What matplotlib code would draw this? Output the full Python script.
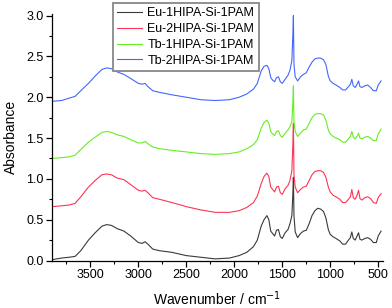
import matplotlib
matplotlib.use("Agg")
import matplotlib.pyplot as plt
from matplotlib.ticker import MultipleLocator

plt.rcParams['font.family'] = ['Liberation Sans', 'DejaVu Sans']

wavenumber = [3900, 3800, 3720, 3660, 3600, 3520, 3450, 3380, 3330, 3280, 3220, 3150, 3080, 3000,
              2960, 2930, 2900, 2850, 2780, 2650, 2500, 2350, 2200, 2050, 1950, 1870, 1800, 1760,
              1720, 1690, 1660, 1640, 1620, 1600, 1580, 1560, 1540, 1520, 1500, 1470, 1440, 1420,
              1400, 1390, 1384, 1378, 1365, 1340, 1310, 1280, 1250, 1220, 1190, 1160, 1130, 1100,
              1070, 1045, 1020, 1000, 970, 940, 900, 870, 840, 810, 790, 775, 760, 740, 720, 705,
              690, 670, 640, 610, 580, 550, 520, 500, 470]

eu1 = [0.01, 0.03, 0.04, 0.05, 0.12, 0.25, 0.34, 0.42, 0.44, 0.43, 0.39, 0.36, 0.30, 0.22,
       0.21, 0.23, 0.20, 0.14, 0.12, 0.10, 0.06, 0.04, 0.02, 0.03, 0.06, 0.10, 0.17, 0.25,
       0.42, 0.50, 0.55, 0.50, 0.36, 0.33, 0.30, 0.37, 0.38, 0.29, 0.27, 0.34, 0.38, 0.45,
       0.55, 0.80, 1.02, 0.55, 0.35, 0.28, 0.33, 0.36, 0.37, 0.45, 0.55, 0.61, 0.64, 0.63,
       0.60, 0.52, 0.38, 0.32, 0.29, 0.27, 0.24, 0.20, 0.20, 0.25, 0.28, 0.35, 0.27, 0.25, 0.30, 0.34,
       0.26, 0.25, 0.27, 0.28, 0.26, 0.22, 0.22, 0.30, 0.36]

eu2 = [0.66, 0.67, 0.68, 0.70, 0.78, 0.90, 0.98, 1.05, 1.06, 1.05, 1.01, 0.99, 0.93, 0.86,
       0.85, 0.86, 0.83, 0.77, 0.75, 0.71, 0.66, 0.62, 0.59, 0.59, 0.61, 0.65, 0.71, 0.79,
       0.94, 1.03, 1.07, 1.03, 0.90, 0.87, 0.84, 0.90, 0.91, 0.83, 0.81, 0.88, 0.92, 0.98,
       1.10, 1.40, 1.68, 1.05, 0.90, 0.83, 0.87, 0.90, 0.91, 0.98, 1.05, 1.09, 1.10, 1.10,
       1.08, 1.02, 0.90, 0.84, 0.80, 0.78, 0.75, 0.71, 0.71, 0.75, 0.78, 0.87, 0.77, 0.75, 0.80, 0.86,
       0.76, 0.74, 0.77, 0.78, 0.76, 0.71, 0.70, 0.77, 0.82]

tb1 = [1.25, 1.26, 1.27, 1.29, 1.36, 1.45, 1.51, 1.57, 1.58, 1.57, 1.54, 1.52, 1.48, 1.44,
       1.44, 1.46, 1.43, 1.39, 1.37, 1.35, 1.33, 1.31, 1.30, 1.31, 1.33, 1.37, 1.42, 1.48,
       1.62, 1.69, 1.72, 1.68, 1.58, 1.55, 1.53, 1.58, 1.59, 1.53, 1.51, 1.56, 1.60, 1.64,
       1.70, 1.92, 2.14, 1.70, 1.58, 1.52, 1.56, 1.60, 1.61, 1.68, 1.75, 1.79, 1.80, 1.80,
       1.78, 1.72, 1.60, 1.55, 1.52, 1.50, 1.48, 1.45, 1.45, 1.49, 1.52, 1.58, 1.51, 1.49, 1.52, 1.56,
       1.50, 1.49, 1.51, 1.52, 1.50, 1.47, 1.47, 1.55, 1.61]

tb2 = [1.95, 1.96, 1.99, 2.01, 2.08, 2.17, 2.26, 2.34, 2.36, 2.35, 2.31, 2.28, 2.23, 2.17,
       2.16, 2.17, 2.13, 2.08, 2.06, 2.03, 2.00, 1.97, 1.96, 1.97, 2.00, 2.04, 2.10, 2.17,
       2.32, 2.38, 2.39, 2.35, 2.24, 2.21, 2.19, 2.24, 2.25, 2.19, 2.17, 2.22, 2.27, 2.33,
       2.45, 2.75, 3.00, 2.40, 2.25, 2.20, 2.25, 2.28, 2.30, 2.37, 2.43, 2.47, 2.48, 2.48,
       2.46, 2.40, 2.26, 2.20, 2.17, 2.15, 2.12, 2.09, 2.09, 2.13, 2.16, 2.22, 2.14, 2.12, 2.16, 2.20,
       2.13, 2.12, 2.14, 2.15, 2.12, 2.08, 2.08, 2.15, 2.20]

labels = ["Eu-1HIPA-Si-1PAM", "Eu-2HIPA-Si-1PAM", "Tb-1HIPA-Si-1PAM", "Tb-2HIPA-Si-1PAM"]
colors = ["#3a3a3a", "#ff3355", "#66ee22", "#4466ff"]
series = [eu1, eu2, tb1, tb2]

fig = plt.figure(figsize=(3.92, 3.08), dpi=100)
ax = fig.add_axes([52/392, 1-260.5/308, 331/392, (260.5-14)/308])

for y, c, lab in zip(series, colors, labels):
    ax.plot(wavenumber, y, color=c, lw=0.8, label=lab)

ax.set_xlim(3900, 450)
ax.set_ylim(0, 3.02)
ax.xaxis.set_major_locator(MultipleLocator(500))
ax.xaxis.set_minor_locator(MultipleLocator(250))
ax.yaxis.set_major_locator(MultipleLocator(0.5))
ax.yaxis.set_minor_locator(MultipleLocator(0.25))
ax.yaxis.set_major_formatter(matplotlib.ticker.FormatStrFormatter('%.1f'))
for s in ['top', 'right']:
    ax.spines[s].set_visible(False)
for s in ['left', 'bottom']:
    ax.spines[s].set_linewidth(0.9)
ax.tick_params(which='major', direction='out', length=4, width=0.9, labelsize=9, pad=2)
ax.tick_params(which='minor', direction='out', length=2.5, width=0.8)
ax.set_xlabel("Wavenumber / cm$^{-1}$", fontsize=10, labelpad=6)
ax.set_ylabel("Absorbance", fontsize=10, labelpad=6)

leg = fig.legend(loc='upper left', bbox_to_anchor=(113/392, 1-3/308), fontsize=9,
                 frameon=True, fancybox=False, edgecolor='#888888', framealpha=1,
                 handlelength=2.0, handletextpad=0.4, labelspacing=0.3, borderpad=0.35,
                 borderaxespad=0)
leg.get_frame().set_linewidth(1.3)

fig.savefig("out.png", dpi=100)
